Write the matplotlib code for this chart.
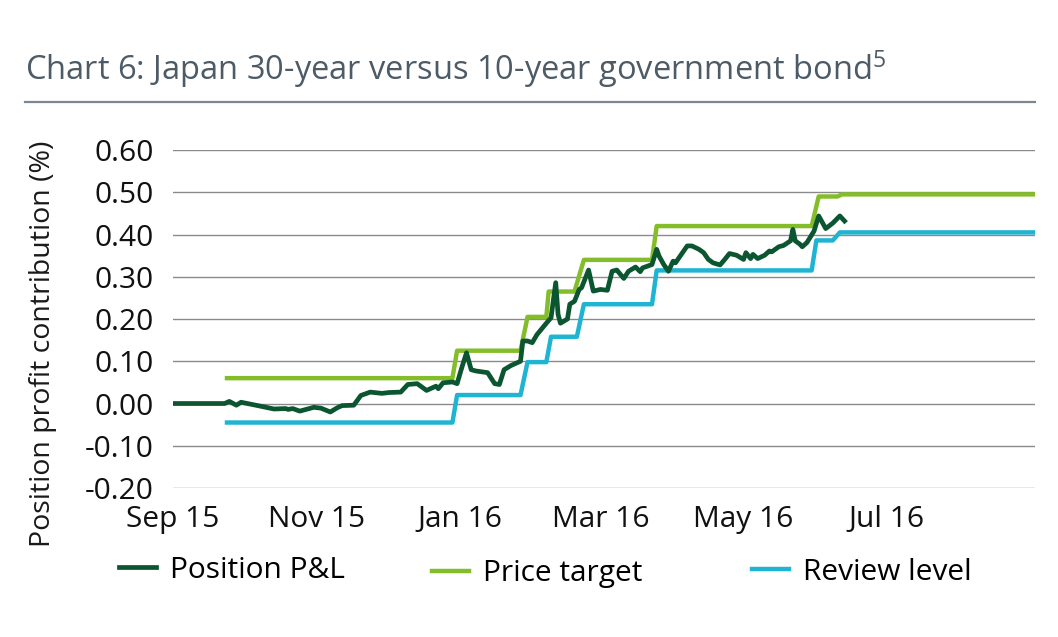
import matplotlib
matplotlib.use("Agg")
import matplotlib.pyplot as plt
import pandas as pd

plt.rcParams['font.family'] = ['Open Sans', 'DejaVu Sans']
plt.rcParams['mathtext.fontset'] = 'custom'
plt.rcParams['mathtext.rm'] = 'Open Sans'
plt.rcParams['mathtext.it'] = 'Open Sans'

title = "Chart 6: Japan 30-year versus 10-year government bond$^{\\mathrm{5}}$"
ylabel = "Position profit contribution (%)"

pnl_dates = ["2015-09-01", "2015-09-23", "2015-09-25", "2015-09-28", "2015-09-30",
             "2015-10-08", "2015-10-14", "2015-10-19", "2015-10-20", "2015-10-22",
             "2015-10-25", "2015-10-31", "2015-11-03", "2015-11-07", "2015-11-10",
             "2015-11-12", "2015-11-17", "2015-11-20", "2015-11-24", "2015-11-29",
             "2015-12-02", "2015-12-07", "2015-12-10", "2015-12-14", "2015-12-18",
             "2015-12-22", "2015-12-23", "2015-12-25", "2015-12-29", "2015-12-31",
             "2016-01-02", "2016-01-04", "2016-01-06", "2016-01-08", "2016-01-13",
             "2016-01-16", "2016-01-18", "2016-01-20", "2016-01-23", "2016-01-27",
             "2016-01-28", "2016-01-30", "2016-02-01", "2016-02-03", "2016-02-07",
             "2016-02-09", "2016-02-11", "2016-02-12", "2016-02-13", "2016-02-16",
             "2016-02-17", "2016-02-19", "2016-02-21", "2016-02-22", "2016-02-25",
             "2016-02-27", "2016-03-01", "2016-03-04", "2016-03-06", "2016-03-08",
             "2016-03-11", "2016-03-13", "2016-03-16", "2016-03-18", "2016-03-19",
             "2016-03-23", "2016-03-25", "2016-03-26", "2016-03-28", "2016-03-30",
             "2016-04-01", "2016-04-02", "2016-04-07", "2016-04-09", "2016-04-12",
             "2016-04-14", "2016-04-16", "2016-04-18", "2016-04-21", "2016-04-23",
             "2016-04-25", "2016-04-28", "2016-05-01", "2016-05-02", "2016-05-04",
             "2016-05-05", "2016-05-07", "2016-05-10", "2016-05-12", "2016-05-13",
             "2016-05-16", "2016-05-18", "2016-05-21", "2016-05-22", "2016-05-23",
             "2016-05-25", "2016-05-26", "2016-05-28", "2016-05-31", "2016-06-02",
             "2016-06-05", "2016-06-08", "2016-06-11", "2016-06-12", "2016-06-13"]
pnl_values = [0.0, 0.0, 0.005, -0.004, 0.003,
              -0.006, -0.013, -0.012, -0.014, -0.012,
              -0.018, -0.009, -0.011, -0.020, -0.010,
              -0.005, -0.004, 0.019, 0.027, 0.024,
              0.026, 0.027, 0.045, 0.047, 0.031,
              0.041, 0.035, 0.049, 0.051, 0.047,
              0.085, 0.120, 0.080, 0.077, 0.073,
              0.047, 0.045, 0.080, 0.090, 0.100,
              0.148, 0.148, 0.144, 0.163, 0.190,
              0.203, 0.286, 0.211, 0.190, 0.200,
              0.235, 0.242, 0.270, 0.274, 0.316,
              0.266, 0.270, 0.268, 0.313, 0.316,
              0.296, 0.313, 0.323, 0.312, 0.321,
              0.329, 0.365, 0.349, 0.329, 0.313,
              0.337, 0.333, 0.373, 0.373, 0.365,
              0.357, 0.341, 0.333, 0.328, 0.341,
              0.355, 0.351, 0.341, 0.357, 0.343,
              0.353, 0.343, 0.351, 0.361, 0.359,
              0.371, 0.374, 0.385, 0.412, 0.385,
              0.377, 0.371, 0.381, 0.408, 0.444,
              0.414, 0.427, 0.444, 0.438, 0.432]

target_dates = ["2015-09-24", "2015-12-29", "2015-12-31", "2016-01-27", "2016-01-30",
                "2016-02-07", "2016-02-08", "2016-02-19", "2016-02-23", "2016-03-23",
                "2016-03-25", "2016-05-30", "2016-06-02", "2016-06-10", "2016-06-12",
                "2016-09-02"]
target_values = [0.06, 0.06, 0.125, 0.125, 0.205,
                 0.205, 0.265, 0.265, 0.34, 0.34,
                 0.42, 0.42, 0.49, 0.49, 0.495,
                 0.495]

review_dates = ["2015-09-24", "2015-12-29", "2015-12-31", "2016-01-27", "2016-01-30",
                "2016-02-07", "2016-02-09", "2016-02-20", "2016-02-23", "2016-03-23",
                "2016-03-25", "2016-05-30", "2016-06-01", "2016-06-08", "2016-06-11",
                "2016-09-02"]
review_values = [-0.045, -0.045, 0.02, 0.02, 0.098,
                 0.098, 0.158, 0.158, 0.235, 0.235,
                 0.315, 0.315, 0.386, 0.386, 0.405,
                 0.405]

y_ticks = [-0.2, -0.1, 0.0, 0.1, 0.2, 0.3, 0.4, 0.5, 0.6]
x_ticks = ["2015-09-01", "2015-11-01", "2016-01-01", "2016-03-01", "2016-05-01", "2016-07-01"]
x_ticklabels = ["Sep 15", "Nov 15", "Jan 16", "Mar 16", "May 16", "Jul 16"]

c_pnl = "#0b5531"
c_target = "#84bd2a"
c_review = "#1fb4d2"

fig = plt.figure(figsize=(10.58, 6.37), dpi=100)
ax = fig.add_axes([0.1635, 0.2339, 0.8145, 0.5306])

l_t, = ax.plot(pd.to_datetime(target_dates), target_values, color=c_target, lw=3.2,
               label="Price target", zorder=3)
l_r, = ax.plot(pd.to_datetime(review_dates), review_values, color=c_review, lw=3.2,
               label="Review level", zorder=3)
l_p, = ax.plot(pd.to_datetime(pnl_dates), pnl_values, color=c_pnl, lw=3.4,
               label="Position P&L", zorder=4, solid_joinstyle='round')

ax.set_yticks(y_ticks)
ax.set_yticklabels([f"{v:.2f}" for v in y_ticks])
ax.set_xticks(pd.to_datetime(x_ticks))
ax.set_xticklabels(x_ticklabels)
ax.set_ylim(-0.2, 0.6)
ax.set_xlim(pd.Timestamp("2015-09-01"), pd.Timestamp("2016-09-02"))
ax.grid(axis='y', color="#8a8a8a", lw=1.0)
ax.set_axisbelow(True)
for s in ax.spines.values():
    s.set_visible(False)
ax.tick_params(axis='both', length=0, labelsize=21.5, colors="#111111")
ax.tick_params(axis='y', pad=14)
ax.tick_params(axis='x', pad=12)
ax.set_ylabel(ylabel, fontsize=20.5, color="#1a1a1a")
ax.yaxis.set_label_coords(-0.1346, 0.426)

fig.text(0.024, 0.875, title, fontsize=23.5, color="#4c5b66", ha='left', va='baseline')
fig.add_artist(plt.Line2D([0.024, 0.978], [0.84, 0.84], transform=fig.transFigure,
                          color="#7b8893", lw=1.6))

for line, xpos, ypos in [(l_p, 119, 570), (l_t, 432, 574), (l_r, 752, 572)]:
    fig.legend([line], [line.get_label()], loc='center left',
               bbox_to_anchor=(xpos / 1058, 1 - ypos / 637), frameon=False,
               fontsize=21.5, handlelength=1.25, handletextpad=0.45,
               borderaxespad=0, borderpad=0)

fig.savefig("out.png", dpi=100)
